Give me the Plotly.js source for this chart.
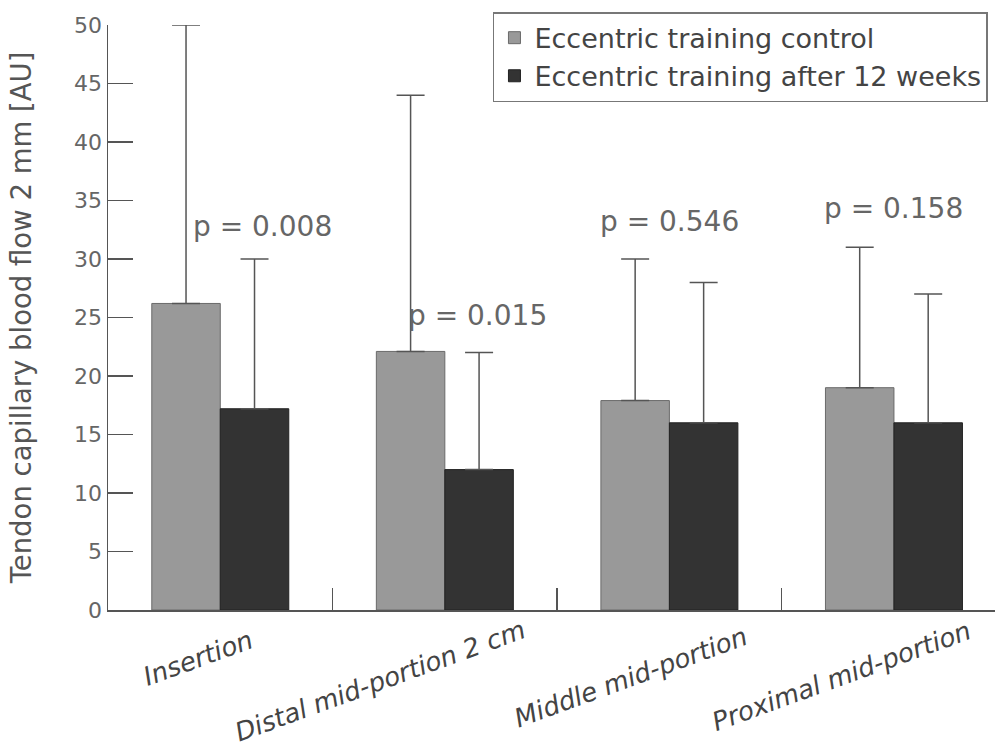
<!DOCTYPE html>
<html>
<head>
<meta charset="utf-8">
<script src="https://cdn.plot.ly/plotly-3.0.1.min.js"></script>
<style>html,body{margin:0;padding:0;background:#fff;}#chart{width:997px;height:747px;}</style>
</head>
<body>
<div id="chart"></div>
<script>
const categories = ["Insertion", "Distal mid-portion 2 cm", "Middle mid-portion", "Proximal mid-portion"];
const seriesNames = ["Eccentric training control", "Eccentric training after 12 weeks"];
const controlValues = [26.2, 22.1, 17.9, 19.0];
const controlErrors = [23.8, 21.9, 12.1, 12.0];
const afterValues = [17.2, 12.0, 16.0, 16.0];
const afterErrors = [12.8, 10.0, 12.0, 11.0];
const pLabels = ["p = 0.008", "p = 0.015", "p = 0.546", "p = 0.158"];
const pLabelY = [32.8, 25.2, 33.2, 34.3];
const yTicks = [0, 5, 10, 15, 20, 25, 30, 35, 40, 45, 50];

const fontFam = "DejaVu Sans, sans-serif";

const traces = [
  {
    type: "bar", name: seriesNames[0], x: categories, y: controlValues,
    marker: {color: "#999999", line: {color: "#6a6a6a", width: 1}},
    error_y: {type: "data", array: controlErrors, arrayminus: controlErrors.map(() => 0), symmetric: false, color: "#555", thickness: 1.5, width: 14}
  },
  {
    type: "bar", name: seriesNames[1], x: categories, y: afterValues,
    marker: {color: "#333333", line: {color: "#222", width: 1}},
    error_y: {type: "data", array: afterErrors, arrayminus: afterErrors.map(() => 0), symmetric: false, color: "#555", thickness: 1.5, width: 14}
  }
];

// layout tuning for the p-value and category labels
const pXShift = [42, 33, 0, 0];
const catXShift = [-22, -65, -38, -52];
const catYShift = [-48, -71, -67, -66];

const annotations = pLabels.map((t, i) => ({
  x: categories[i], y: pLabelY[i], xref: "x", yref: "y", text: t, showarrow: false,
  xshift: pXShift[i],
  font: {family: fontFam, size: 28, color: "#666"}
})).concat(categories.map((c, i) => ({
  x: c, y: 0, xref: "x", yref: "paper", text: c, showarrow: false,
  xanchor: "center", yanchor: "middle", textangle: -20,
  xshift: catXShift[i], yshift: catYShift[i],
  font: {family: fontFam, size: 26, color: "#444", style: "italic"}
})));

const layout = {
  width: 997, height: 747,
  margin: {l: 108, r: 2, t: 25, b: 137},
  paper_bgcolor: "#fff", plot_bgcolor: "#fff",
  barmode: "group", bargap: 0.39, bargroupgap: 0,
  showlegend: true,
  legend: {
    x: 0.434, y: 1.022, xanchor: "left", yanchor: "top",
    bgcolor: "#fff", bordercolor: "#777", borderwidth: 1.5,
    font: {family: fontFam, size: 27, color: "#444"},
    itemwidth: 30, tracegroupgap: 0
  },
  xaxis: {
    type: "category",
    range: [-0.5, 3.45],
    tickson: "boundaries", ticks: "inside", ticklen: 22, tickcolor: "#555", tickwidth: 1.5,
    showticklabels: false,
    showline: true, linecolor: "#555", linewidth: 1.5,
    showgrid: false, zeroline: false
  },
  yaxis: {
    range: [0, 50],
    tickmode: "array", tickvals: yTicks,
    ticks: "inside", ticklen: 25, tickcolor: "#555", tickwidth: 1.5,
    tickfont: {family: fontFam, size: 22, color: "#666"},
    showline: true, linecolor: "#555", linewidth: 1.5,
    showgrid: false, zeroline: false,
    title: {text: "Tendon capillary blood flow 2 mm [AU]", font: {family: fontFam, size: 27.5, color: "#555"}, standoff: 34}
  },
  annotations: annotations
};

Plotly.newPlot("chart", traces, layout, {displayModeBar: false, staticPlot: true});
</script>
</body>
</html>
